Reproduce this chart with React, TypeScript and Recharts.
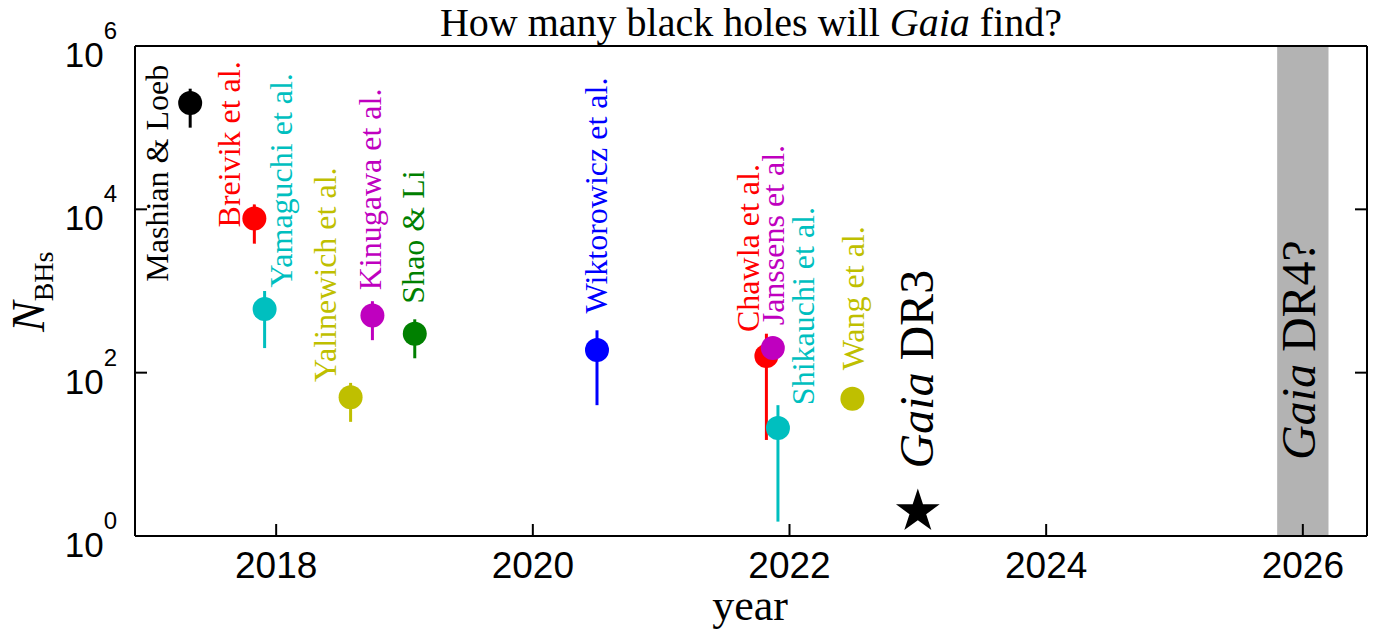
import React from 'react';
import { ScatterChart, Scatter, XAxis, YAxis, ErrorBar, ReferenceArea } from 'recharts';

// predictions from the literature
const studies = [
  'Mashian & Loeb',
  'Breivik et al.',
  'Yamaguchi et al.',
  'Yalinewich et al.',
  'Kinugawa et al.',
  'Shao & Li',
  'Wiktorowicz et al.',
  'Chawla et al.',
  'Janssens et al.',
  'Shikauchi et al.',
  'Wang et al.',
];
const pubYears = [2017.33, 2017.83, 2017.91, 2018.58, 2018.75, 2019.08, 2020.5, 2021.82, 2021.87, 2021.91, 2022.49];
const nBHs = [200000, 7700, 600, 50, 500, 300, 190, 160, 200, 21, 48];
const nLow = [100000, 3800, 200, 25, 250, 150, 40, 15, 200, 1.5, 48];
const nHigh = [300000, 11500, 1000, 75, 750, 450, 330, 300, 200, 40, 48];
const colors = ['#000000', '#ff0000', '#00bfbf', '#bfbf00', '#bf00bf', '#008000', '#0000ff', '#ff0000', '#bf00bf', '#00bfbf', '#bfbf00'];

// where each name sits (start of the rotated text)
const labelYears = [2017.155, 2017.72, 2018.125, 2018.467, 2018.818, 2019.155, 2020.581, 2021.766, 2021.96, 2022.188, 2022.577];
const labelN = [1300, 6000, 1100, 77, 1020, 700, 530, 315, 380, 40, 107];

// Gaia releases
const dr3Year = 2023;
const dr3N = 2;
const dr4Start = 2025.8;
const dr4End = 2026.2;
const gaiaNames = ['DR3', 'DR4?'];
const gaiaLabelYears = [2023.115, 2026.092];
const gaiaLabelN = [6.7, 8.5];

const xTicks = [2018, 2020, 2022, 2024, 2026];
const yTicks = [1, 100, 10000, 1000000];
const yExp: Record<number, string> = { 1: '0', 100: '2', 10000: '4', 1000000: '6' };

const SERIF = '"Liberation Serif", "DejaVu Serif", serif';
const SANS = '"Liberation Sans", Arial, sans-serif';
const TICK = 12;

const W = 1386;
const H = 635;

const BottomTick = (p: any) => (
  <g>
    <line x1={p.x} x2={p.x} y1={p.y} y2={p.y - TICK} stroke="#000" strokeWidth={2} />
    <text x={p.x} y={p.y + 42} textAnchor="middle" fontFamily={SANS} fontSize={37} fill="#000">
      {p.payload.value}
    </text>
  </g>
);

const TopTick = (p: any) => (
  <line x1={p.x} x2={p.x} y1={p.y} y2={p.y + TICK} stroke="#000" strokeWidth={2} />
);

const LeftTick = (p: any) => (
  <g>
    <line x1={p.x} x2={p.x + TICK} y1={p.y} y2={p.y} stroke="#000" strokeWidth={2} />
    <text x={p.x - 18} y={p.y + 21} textAnchor="end" fontFamily={SANS} fill="#000">
      <tspan fontSize={35}>10</tspan>
      <tspan fontSize={24} dy={-28}>{yExp[p.payload.value]}</tspan>
    </text>
  </g>
);

const RightTick = (p: any) => (
  <line x1={p.x} x2={p.x - TICK} y1={p.y} y2={p.y} stroke="#000" strokeWidth={2} />
);

const starPath = (cx: number, cy: number, R: number) => {
  const r = R * 0.382;
  let d = '';
  for (let i = 0; i < 10; i++) {
    const rad = i % 2 === 0 ? R : r;
    const a = -Math.PI / 2 + (i * Math.PI) / 5;
    d += (i === 0 ? 'M' : 'L') + (cx + rad * Math.cos(a)).toFixed(2) + ',' + (cy + rad * Math.sin(a)).toFixed(2);
  }
  return d + 'Z';
};

const NameLabel = (p: any) => (
  <text
    x={p.cx}
    y={p.cy}
    transform={`rotate(-90 ${p.cx} ${p.cy})`}
    fill={p.payload.color}
    fontFamily={SERIF}
    fontSize={32}
  >
    {p.payload.text}
  </text>
);

const GaiaLabel = (p: any) => (
  <text
    x={p.cx}
    y={p.cy}
    transform={`rotate(-90 ${p.cx} ${p.cy})`}
    fill="#000"
    fontFamily={SERIF}
    fontSize={48}
  >
    <tspan fontStyle="italic">Gaia</tspan> {p.payload.text}
  </text>
);

const axisLine = { stroke: '#000', strokeWidth: 2 };

export default function App() {
  const labelData = studies.map((s, i) => ({ year: labelYears[i], n: labelN[i], text: s, color: colors[i] }));
  const gaiaLabelData = gaiaNames.map((s, i) => ({ year: gaiaLabelYears[i], n: gaiaLabelN[i], text: s }));

  return (
    <div style={{ position: 'relative', width: W, height: H }}>
      <style>{'body{margin:0}'}</style>
      <ScatterChart width={W} height={H} margin={{ top: 45, right: 18, bottom: 39, left: 35 }}>
        <ReferenceArea x1={dr4Start} x2={dr4End} fill="#b3b3b3" fillOpacity={1} stroke="none" ifOverflow="hidden" />
        <XAxis
          dataKey="year"
          type="number"
          domain={[2016.9, 2026.5]}
          ticks={xTicks}
          interval={0}
          allowDataOverflow
          height={60}
          tickSize={0}
          tickMargin={0}
          tickLine={false}
          tick={BottomTick}
          axisLine={axisLine}
        />
        <XAxis
          xAxisId="top"
          orientation="top"
          type="number"
          domain={[2016.9, 2026.5]}
          ticks={xTicks}
          interval={0}
          allowDataOverflow
          height={1}
          tickSize={0}
          tickMargin={0}
          tickLine={false}
          tick={TopTick}
          axisLine={axisLine}
        />
        <YAxis
          dataKey="n"
          type="number"
          scale="log"
          domain={[1, 1000000]}
          ticks={yTicks}
          interval={0}
          allowDataOverflow
          width={100}
          tickSize={0}
          tickMargin={0}
          tickLine={false}
          tick={LeftTick}
          axisLine={axisLine}
        />
        <YAxis
          yAxisId="right"
          orientation="right"
          type="number"
          scale="log"
          domain={[1, 1000000]}
          ticks={yTicks}
          interval={0}
          allowDataOverflow
          width={1}
          tickSize={0}
          tickMargin={0}
          tickLine={false}
          tick={RightTick}
          axisLine={axisLine}
        />
        {studies.map((s, i) => (
          <Scatter
            key={s}
            name={s}
            data={[{ year: pubYears[i], n: nBHs[i], err: [nBHs[i] - nLow[i], nHigh[i] - nBHs[i]] }]}
            fill={colors[i]}
            isAnimationActive={false}
            shape={(p: any) => <circle cx={p.cx} cy={p.cy} r={12} fill={colors[i]} />}
          >
            {nLow[i] !== nHigh[i] && (
              <ErrorBar dataKey="err" direction="y" stroke={colors[i]} strokeWidth={3} width={0} />
            )}
          </Scatter>
        ))}
        <Scatter
          name="Gaia DR3"
          data={[{ year: dr3Year, n: dr3N }]}
          isAnimationActive={false}
          shape={(p: any) => <path d={starPath(p.cx, p.cy, 23)} fill="#000" />}
        />
        <Scatter name="labels" data={labelData} isAnimationActive={false} shape={NameLabel} />
        <Scatter name="gaia labels" data={gaiaLabelData} isAnimationActive={false} shape={GaiaLabel} />
      </ScatterChart>
      <svg width={W} height={H} style={{ position: 'absolute', left: 0, top: 0, pointerEvents: 'none' }}>
        <text x={751} y={36} textAnchor="middle" fontFamily={SERIF} fontSize={40} fill="#000">
          How many black holes will <tspan fontStyle="italic">Gaia</tspan> find?
        </text>
        <text x={750} y={620} textAnchor="middle" fontFamily={SERIF} fontSize={44} fill="#000">
          year
        </text>
        <text x={44} y={332} transform="rotate(-90 44 332)" fontFamily={SERIF} fill="#000">
          <tspan fontSize={46} fontStyle="italic">N</tspan>
          <tspan fontSize={28} dy={9}>BHs</tspan>
        </text>
      </svg>
    </div>
  );
}
